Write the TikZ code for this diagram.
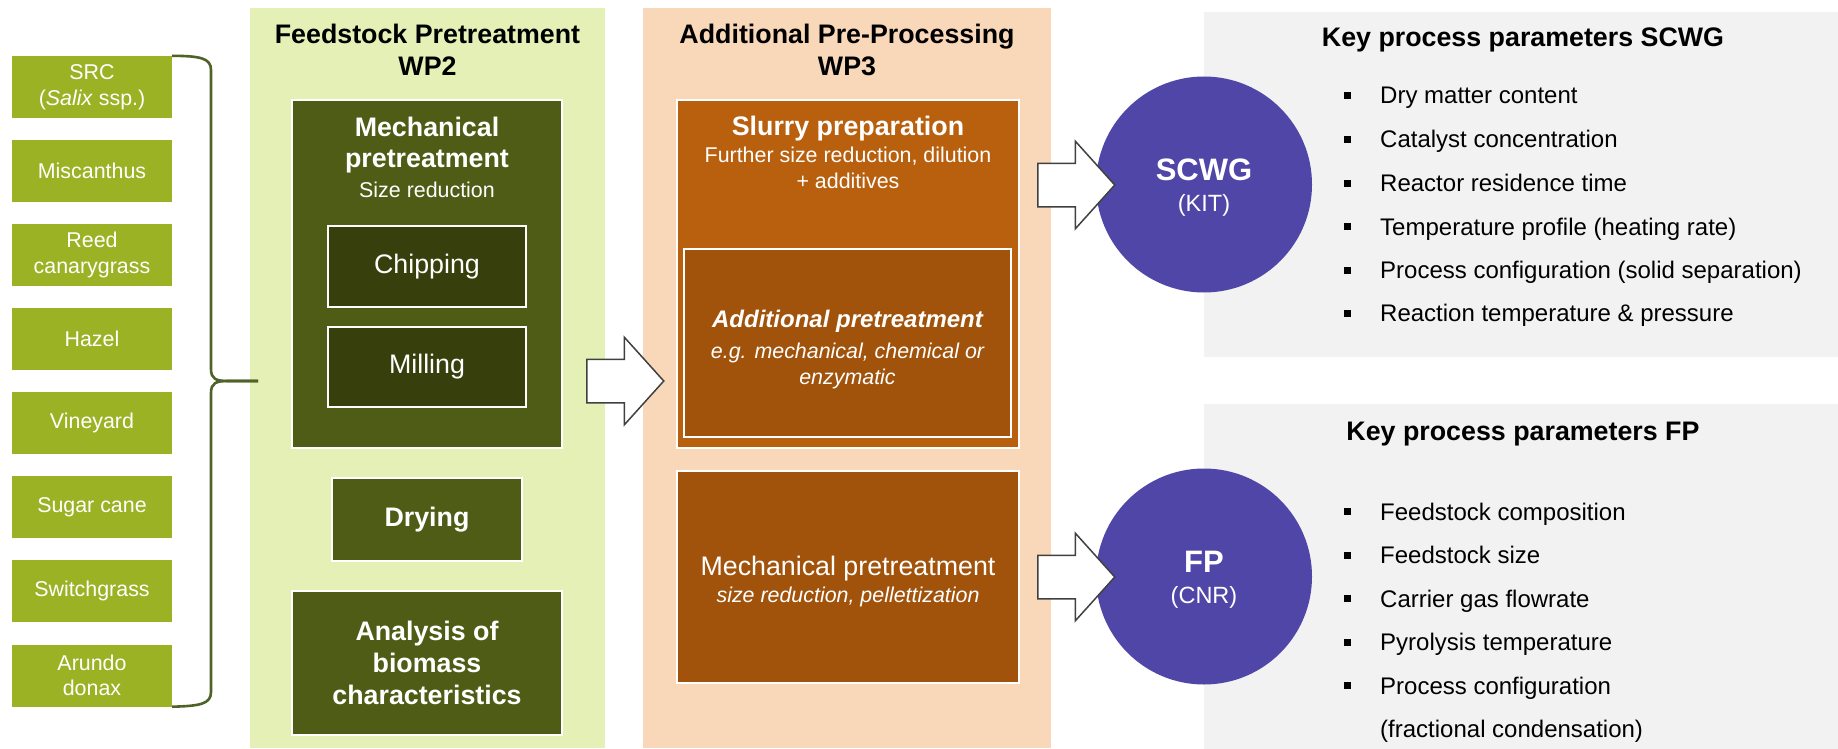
\documentclass[tikz,border=0pt]{standalone}
\usepackage{fontspec}
\setmainfont{Liberation Sans}
\usetikzlibrary{shapes.arrows}

\definecolor{leafgreen}{RGB}{155,178,36}
\definecolor{palegreen}{RGB}{229,240,183}
\definecolor{wpolive}{RGB}{79,92,22}
\definecolor{wpdark}{RGB}{55,64,13}
\definecolor{paleorange}{RGB}{249,216,186}
\definecolor{slurry}{RGB}{185,96,15}
\definecolor{rust}{RGB}{161,83,12}
\definecolor{reactor}{RGB}{79,70,168}
\definecolor{panelgrey}{RGB}{242,242,242}
\definecolor{bracegreen}{RGB}{79,98,40}
\definecolor{arrowgrey}{RGB}{64,64,64}

\newcommand{\fbig}{\fontsize{26.8}{32}\selectfont}
\newcommand{\fsmall}{\fontsize{21.4}{25.5}\selectfont}
\newcommand{\fitem}{\fontsize{24}{29}\selectfont}
\newcommand{\fcirc}{\fontsize{31}{36}\selectfont}
\newcommand{\fkit}{\fontsize{23.5}{28}\selectfont}
\newcommand{\sqbullet}{\makebox[36pt][l]{\rule[5pt]{7pt}{7pt}}}

\begin{document}
\begin{tikzpicture}[x=1pt,y=-1pt,
  feed/.style={fill=leafgreen,text=white,minimum width=160,minimum height=62,inner sep=0,align=center,font=\fsmall},
  panel/.style={inner sep=0,draw=none},
  paneltitle/.style={font=\fbig\bfseries,align=center,inner sep=0},
  wpbox/.style={draw=white,line width=2.5,inner sep=0,text=white,align=center,font=\fbig},
  boxtext/.style={text=white,align=center,inner sep=0,font=\fontsize{26.8}{30.5}\selectfont},
  reactorc/.style={circle,fill=reactor,text=white,minimum size=216,inner sep=0,align=center,font=\fontsize{23.5}{31}\selectfont},
  keypanel/.style={fill=panelgrey,inner sep=0},
  keytitle/.style={font=\fbig\bfseries,anchor=base,inner sep=0},
  keyitem/.style={font=\fitem,anchor=base west,inner sep=0},
  blockarrow/.style={single arrow,draw=arrowgrey,fill=white,line width=1.5,inner xsep=0,inner ysep=21,minimum height=77,single arrow head extend=22,single arrow tip angle=96,anchor=tail},
  feedbrace/.style={draw=bracegreen,line width=2.6}]

\fill[white] (0,0) rectangle (1838,749);
\useasboundingbox (0,0) rectangle (1838,749);

% feedstocks
\node[feed] (src) at (92,87) {SRC\\(\textit{Salix} ssp.)};
\node[feed] (misc) at (92,171) {Miscanthus};
\node[feed] (reed) at (92,255) {Reed\\canarygrass};
\node[feed] (hazel) at (92,339) {Hazel};
\node[feed] (vine) at (92,423) {Vineyard};
\node[feed] (sugar) at (92,507) {Sugar cane};
\node[feed] (switch) at (92,591) {Switchgrass};
\node[feed] (arundo) at (92,675.5) {Arundo\\donax};

% WP2
\node[panel,fill=palegreen,minimum width=355,minimum height=740] (wp2) at (427.5,378) {};
\node[paneltitle] (wp2title) at (427.5,50) {Feedstock Pretreatment\\WP2};
\node[wpbox,fill=wpolive,minimum width=270,minimum height=348] (mech) at (427,274) {};
\node[boxtext] (mechtext) at (427,157.5) {\bfseries Mechanical\\\bfseries pretreatment\\\mdseries\fsmall Size reduction};
\node[wpbox,fill=wpdark,minimum width=198,minimum height=81] (chip) at (427,266.5) {Chipping};
\node[wpbox,fill=wpdark,minimum width=198,minimum height=80] (mill) at (427,367) {Milling};
\node[wpbox,fill=wpolive,minimum width=190,minimum height=83,font=\fbig\bfseries] (dry) at (427,519.5) {Drying};
\node[wpbox,fill=wpolive,minimum width=270,minimum height=144,font=\fbig\bfseries] (analysis) at (427,663) {Analysis of\\biomass\\characteristics};

\coordinate (bracetip) at (258,381);
\draw[feedbrace] (src.north east) .. controls (200,56) and (211,58) .. (211,70) -- (211,369) .. controls (211,379) and (216,381) .. (228,381) -- (bracetip);
\draw[feedbrace] (bracetip) -- (228,381) .. controls (216,381) and (211,383) .. (211,393) -- (211,692) .. controls (211,704) and (200,706) .. (arundo.south east);

% WP3
\node[panel,fill=paleorange,minimum width=408,minimum height=740] (wp3) at (847,378) {};
\node[paneltitle] (wp3title) at (847,50) {Additional Pre-Processing\\WP3};
\node[wpbox,fill=slurry,minimum width=342,minimum height=348] (slurry) at (848,274) {};
\node[boxtext,font=\fontsize{21.4}{26}\selectfont] (slurrytext) at (848,152) {\bfseries\fbig Slurry preparation\\[1pt]\mdseries\fsmall Further size reduction, dilution\\\mdseries\fsmall + additives};
\node[wpbox,fill=rust,minimum width=327,minimum height=188] (addpre) at (847.5,343) {};
\node[boxtext,font=\fontsize{21.4}{26}\selectfont] (addtext) at (847.5,349.5) {\bfseries\itshape\fitem Additional pretreatment\\[5pt]\mdseries\itshape\fsmall e.g. mechanical, chemical or\\\mdseries\itshape\fsmall enzymatic};
\node[wpbox,fill=rust,minimum width=342,minimum height=212] (mech3) at (848,577) {};
\node[boxtext,font=\fontsize{21.4}{27}\selectfont] (mech3text) at (848,582) {\fbig Mechanical pretreatment\\\itshape\fsmall size reduction, pellettization};

% key parameters
\node[keypanel,minimum width=634,minimum height=345] (scwgpanel) at (1521,184.5) {};
\node[keypanel,minimum width=634,minimum height=345] (fppanel) at (1521,576.5) {};
\node[keytitle] (scwgtitle) at (1523,47) {Key process parameters SCWG};
\node[keytitle] (fptitle) at (1523,440.5) {Key process parameters FP};

\node[keyitem] (dm) at (1344,104) {\sqbullet Dry matter content};
\node[keyitem] (cat) at (1344,147.5) {\sqbullet Catalyst concentration};
\node[keyitem] (rt) at (1344,191.5) {\sqbullet Reactor residence time};
\node[keyitem] (tp) at (1344,235) {\sqbullet Temperature profile (heating rate)};
\node[keyitem] (pc) at (1344,278.5) {\sqbullet Process configuration (solid separation)};
\node[keyitem] (rtp) at (1344,321.5) {\sqbullet Reaction temperature \& pressure};

\node[keyitem] (fc) at (1344,520) {\sqbullet Feedstock composition};
\node[keyitem] (fs) at (1344,563.5) {\sqbullet Feedstock size};
\node[keyitem] (cg) at (1344,607) {\sqbullet Carrier gas flowrate};
\node[keyitem] (pt) at (1344,650.5) {\sqbullet Pyrolysis temperature};
\node[keyitem] (fpc) at (1344,694) {\sqbullet Process configuration};
\node[keyitem] (frac) at (1380,737.5) {(fractional condensation)};

% reactors
\node[reactorc] (scwg) at (1204,184.5) {\rule{0pt}{28pt}\bfseries\fcirc SCWG\\\mdseries\fkit (KIT)};
\node[reactorc] (fp) at (1204,576.5) {\rule{0pt}{28pt}\bfseries\fcirc FP\\\mdseries\fkit (CNR)};

% block arrows
\node[blockarrow] (toWP3) at (586,381) {};
\node[blockarrow] (toSCWG) at (1037,185) {};
\node[blockarrow] (toFP) at (1037,577) {};
\end{tikzpicture}
\end{document}
